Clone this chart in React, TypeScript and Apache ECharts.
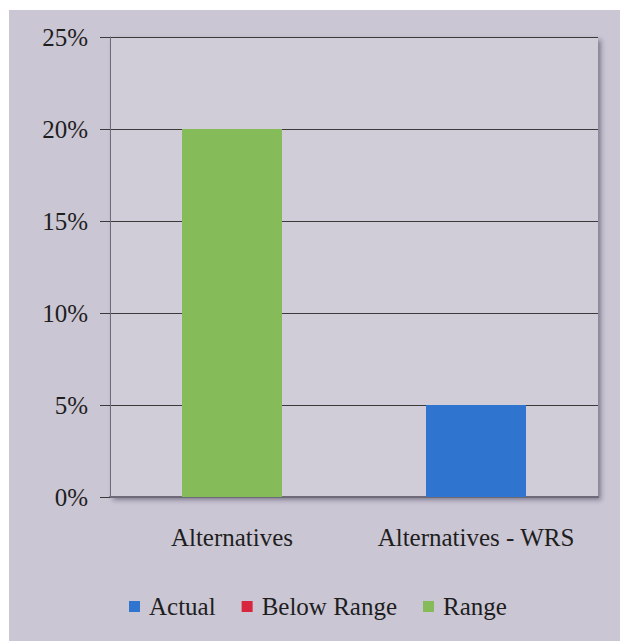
import React, { useEffect, useRef } from "react";
import * as echarts from "echarts";

const categories = ["Alternatives", "Alternatives - WRS"];
const actual = [null, 5];
const belowRange = [null, null];
const range = [20, null];
const seriesNames = ["Actual", "Below Range", "Range"];

export default function App() {
  const ref = useRef<HTMLDivElement>(null);
  useEffect(() => {
    const chart = echarts.init(ref.current!, null, { renderer: "svg" });
    const font = "'Liberation Serif', 'DejaVu Serif', serif";
    chart.setOption({
      animation: false,
      backgroundColor: "#ffffff",
      graphic: [
        {
          type: "rect",
          z: -10,
          shape: { x: 9, y: 10, width: 611, height: 631 },
          style: { fill: "#cbc6d4" },
          silent: true,
        },
      ],
      color: ["#2f74cf", "#d9263f", "#86bb5a"],
      grid: {
        left: 110,
        right: 22,
        top: 37,
        bottom: 145,
        show: true,
        backgroundColor: "#d1cdd8",
        borderWidth: 0,
        shadowColor: "rgba(40,40,60,0.45)",
        shadowBlur: 5,
        shadowOffsetX: 3,
        shadowOffsetY: 3,
      },
      legend: {
        top: 589,
        left: 124,
        itemWidth: 11,
        itemHeight: 11,
        itemGap: 26,
        icon: "rect",
        data: seriesNames,
        textStyle: { fontFamily: font, fontSize: 25, color: "#1e1e1e", padding: [0, 0, 0, 4] },
      },
      xAxis: {
        type: "category",
        data: categories,
        axisLine: { show: true, lineStyle: { color: "#6e6a78", width: 2 } },
        axisTick: { show: false },
        axisLabel: {
          fontFamily: font,
          fontSize: 25,
          color: "#1e1e1e",
          margin: 28,
          interval: 0,
          hideOverlap: false,
        },
      },
      yAxis: {
        type: "value",
        min: 0,
        max: 25,
        interval: 5,
        axisLine: { show: true, lineStyle: { color: "#6e6a78", width: 1 } },
        axisTick: { show: true, length: 10, lineStyle: { color: "#3a3a3a" } },
        splitLine: { show: true, lineStyle: { color: "#3a3a3a", width: 1 } },
        axisLabel: {
          fontFamily: font,
          fontSize: 25,
          color: "#1e1e1e",
          margin: 22,
          formatter: "{value}%",
        },
      },
      series: [
        { name: seriesNames[0], type: "bar", stack: "t", barWidth: 100, data: actual },
        { name: seriesNames[1], type: "bar", stack: "t", barWidth: 100, data: belowRange },
        { name: seriesNames[2], type: "bar", stack: "t", barWidth: 100, data: range },
      ],
    });
    return () => chart.dispose();
  }, []);
  return (
    <div
      ref={ref}
      style={{ position: "absolute", left: 0, top: 0, width: 620, height: 642 }}
    />
  );
}
